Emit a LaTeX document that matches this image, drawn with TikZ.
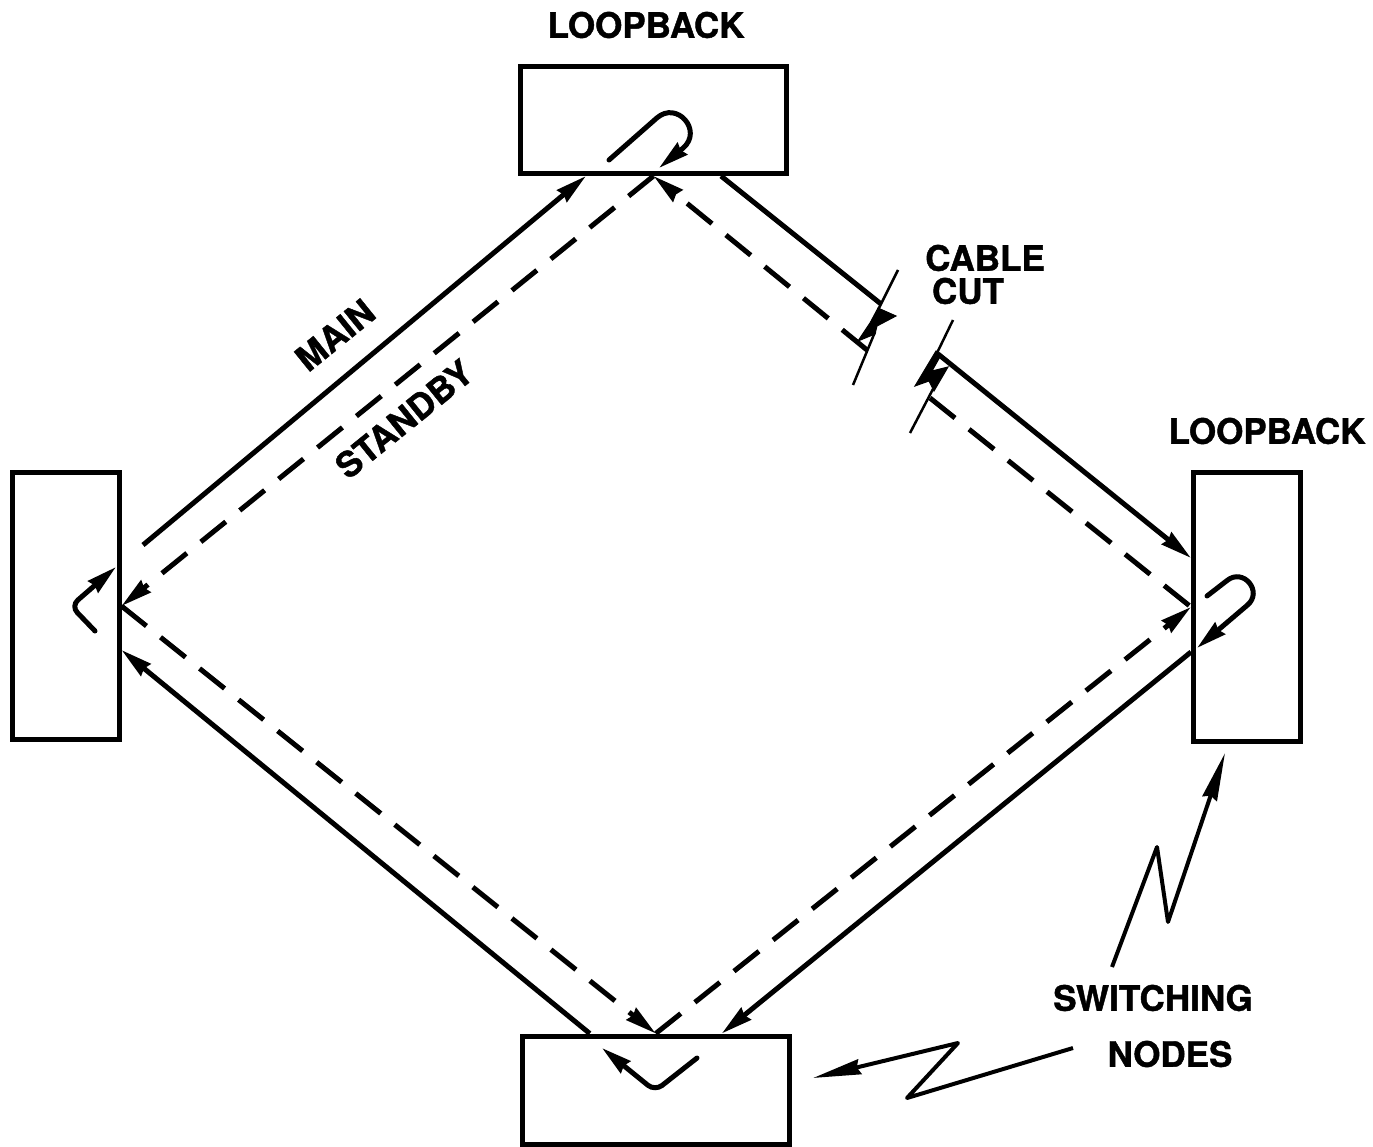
\documentclass[tikz,border=0pt]{standalone}
\usepackage{fontspec}
\setmainfont{TeX Gyre Heros}[BoldFeatures={FakeBold=1.2}]
\usetikzlibrary{arrows.meta}
\begin{document}
\begin{tikzpicture}[x=1pt,y=-1pt,
  box/.style={draw, line width=5pt, inner sep=0pt},
  mainln/.style={line width=5pt},
  stby/.style={line width=5pt, dash pattern=on 32pt off 18pt},
  tip/.style={-{Stealth[length=31pt,width=15pt,inset=2pt]}},
  loopln/.style={line width=5pt, line cap=round, -{Stealth[length=30pt,width=15pt,inset=2pt]}},
  lbl/.style={font=\fontsize{35}{41}\selectfont\bfseries, inner sep=0pt},
  zig/.style={line width=4pt, line join=round, -{Stealth[length=48pt,width=15pt,inset=3pt]}},
  boltthin/.style={line width=2.5pt},
  boltfill/.style={fill=black, draw=black, line width=1pt, line join=miter},
]
\useasboundingbox (0,0) rectangle (1373,1147);

% switching nodes (boxes)
\node[box, minimum width=266pt, minimum height=107pt] (top) at (653.5,120) {};
\node[box, minimum width=106.5pt, minimum height=267.5pt] (left) at (65.75,606) {};
\node[box, minimum width=107pt, minimum height=269.5pt] (right) at (1247,607) {};
\node[box, minimum width=267.5pt, minimum height=108pt] (bot) at (655.75,1090) {};

% labels
\node[lbl] (lb1) at (646,25) {LOOPBACK};
\node[lbl] (lb2) at (1267,431) {LOOPBACK};
\node[lbl] (cable) at (985,258) {CABLE};
\node[lbl] (cut) at (968,291) {CUT};
\node[lbl, rotate=39] (mainl) at (335,335) {MAIN};
\node[lbl, rotate=39] (stbl) at (404,419) {STANDBY};
\node[lbl] (sw) at (1153,998) {SWITCHING};
\node[lbl] (nodes) at (1170,1054) {NODES};

% free coordinates
\coordinate (ulstart) at (143,545);
\coordinate (cutA1) at (881,304);
\coordinate (cutB1) at (938,354);
\coordinate (cutA2) at (867,350);
\coordinate (cutB2) at (930,398);

% upper-left edge
\draw[mainln,tip] (ulstart) -- ([shift={(-67.5,0)}]top.south);
\draw[stby,tip] (top.south) -- (left.east);

% upper-right edge (cut)
\draw[mainln] ([shift={(67.5,0)}]top.south) -- (cutA1);
\draw[mainln,tip] (cutB1) -- ([shift={(0,-49)}]right.west);
\draw[stby,tip] (cutA2) -- (top.south);
\draw[stby] (cutB2) -- (right.west);

% lower-left edge
\draw[mainln,tip] ([shift={(-66,0)}]bot.north) -- ([shift={(0,44)}]left.east);
\draw[stby,tip] (left.east) -- (bot.north);

% lower-right edge
\draw[stby,tip] (bot.north) -- (right.west);
\draw[mainln,tip] ([shift={(0,45)}]right.west) -- ([shift={(66,0)}]bot.north);

% loopbacks inside boxes
\draw[loopln] (609,160) -- (656.8,118) .. controls (676.8,100.4) and (703.2,130.4) .. (683.2,148) -- (659,168);
\draw[loopln] (1207,596) -- (1226.8,580.7) .. controls (1243.2,567.1) and (1263.6,591.7) .. (1247.2,605.3) -- (1197,648);
\draw[loopln, rounded corners=9pt] (95,631) -- (71,606) -- (116,567);
\draw[loopln, rounded corners=9pt] (697,1058) -- (655,1091) -- (602,1048);

% cable cut bolts
\draw[boltthin] (898,270) -- (878,310);
\fill[boltfill] (878,308) -- (896,316) -- (877,326) -- (875,334) -- (858,341) -- (870,323) -- cycle;
\draw[boltthin] (875,332) -- (853,385);
\draw[boltthin] (953,320) -- (937,353);
\fill[boltfill] (936,351) -- (941,355) -- (932,371) -- (948,367) -- (934,391) -- (929,381) -- (915,386) -- cycle;
\draw[boltthin] (933,389) -- (910,433);

% switching nodes pointers
\coordinate (z1s) at (1112,967);
\coordinate (z1e) at (1225,753);
\coordinate (z2s) at (1073,1048);
\coordinate (z2e) at (813,1078);
\draw[zig] (z1s) -- (1157,847) -- (1168,922) -- (z1e);
\draw[zig] (z2s) -- (907,1098) -- (958,1043) -- (z2e);
\end{tikzpicture}
\end{document}
